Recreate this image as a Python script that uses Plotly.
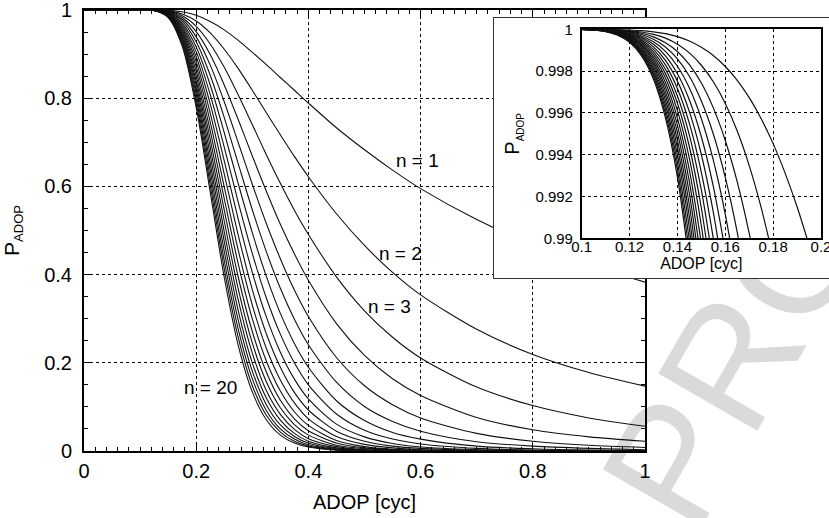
import plotly.graph_objects as go

# ---------------- data ----------------
N_VALUES = list(range(1, 21))

MAIN_X = [0.0, 0.05, 0.10, 0.125, 0.15, 0.175, 0.20, 0.225, 0.25, 0.275, 0.30,
          0.325, 0.35, 0.375, 0.40, 0.45, 0.50, 0.55, 0.60, 0.70, 0.80, 0.90, 1.00]

p_n1 = [1.000, 1.000, 1.000, 1.000, 0.999, 0.996, 0.988, 0.974, 0.955, 0.931, 0.904, 0.876, 0.847, 0.818, 0.789, 0.733, 0.683, 0.637, 0.595, 0.525, 0.468, 0.421, 0.383]
p_n2 = [1.000, 1.000, 1.000, 1.000, 0.998, 0.991, 0.975, 0.948, 0.911, 0.867, 0.818, 0.767, 0.717, 0.668, 0.622, 0.538, 0.466, 0.405, 0.354, 0.276, 0.219, 0.178, 0.147]
p_n3 = [1.000, 1.000, 1.000, 1.000, 0.997, 0.987, 0.963, 0.923, 0.870, 0.807, 0.740, 0.672, 0.607, 0.546, 0.491, 0.395, 0.318, 0.258, 0.211, 0.145, 0.103, 0.075, 0.056]
p_n4 = [1.000, 1.000, 1.000, 1.000, 0.997, 0.983, 0.951, 0.899, 0.830, 0.751, 0.669, 0.589, 0.514, 0.447, 0.387, 0.289, 0.217, 0.164, 0.126, 0.076, 0.048, 0.032, 0.022]
p_n5 = [1.000, 1.000, 1.000, 1.000, 0.996, 0.979, 0.939, 0.875, 0.792, 0.699, 0.605, 0.516, 0.436, 0.365, 0.305, 0.212, 0.148, 0.105, 0.075, 0.040, 0.022, 0.013, 0.008]
p_n6 = [1.000, 1.000, 1.000, 1.000, 0.995, 0.975, 0.928, 0.852, 0.756, 0.651, 0.547, 0.452, 0.369, 0.299, 0.241, 0.156, 0.101, 0.067, 0.045, 0.021, 0.011, 0.006, 0.003]
p_n7 = [1.000, 1.000, 1.000, 1.000, 0.994, 0.970, 0.916, 0.830, 0.722, 0.606, 0.495, 0.396, 0.312, 0.244, 0.190, 0.114, 0.069, 0.042, 0.027, 0.011, 0.005, 0.002, 0.001]
p_n8 = [1.000, 1.000, 1.000, 0.999, 0.993, 0.966, 0.905, 0.808, 0.689, 0.564, 0.448, 0.347, 0.265, 0.200, 0.150, 0.084, 0.047, 0.027, 0.016, 0.006, 0.002, 0.001, 0.000]
p_n9 = [1.000, 1.000, 1.000, 0.999, 0.992, 0.962, 0.894, 0.787, 0.658, 0.525, 0.405, 0.304, 0.224, 0.163, 0.118, 0.061, 0.032, 0.017, 0.009, 0.003, 0.001, 0.000, 0.000]
p_n10 = [1.000, 1.000, 1.000, 0.999, 0.991, 0.958, 0.883, 0.766, 0.628, 0.489, 0.366, 0.266, 0.190, 0.133, 0.093, 0.045, 0.022, 0.011, 0.006, 0.002, 0.001, 0.000, 0.000]
p_n11 = [1.000, 1.000, 1.000, 0.999, 0.991, 0.954, 0.872, 0.746, 0.599, 0.455, 0.331, 0.233, 0.161, 0.109, 0.073, 0.033, 0.015, 0.007, 0.003, 0.001, 0.000, 0.000, 0.000]
p_n12 = [1.000, 1.000, 1.000, 0.999, 0.990, 0.950, 0.861, 0.726, 0.572, 0.424, 0.300, 0.204, 0.136, 0.089, 0.058, 0.024, 0.010, 0.004, 0.002, 0.000, 0.000, 0.000, 0.000]
p_n13 = [1.000, 1.000, 1.000, 0.999, 0.989, 0.946, 0.850, 0.707, 0.546, 0.394, 0.271, 0.179, 0.115, 0.073, 0.046, 0.018, 0.007, 0.003, 0.001, 0.000, 0.000, 0.000, 0.000]
p_n14 = [1.000, 1.000, 1.000, 0.999, 0.988, 0.942, 0.839, 0.689, 0.521, 0.367, 0.245, 0.157, 0.098, 0.060, 0.036, 0.013, 0.005, 0.002, 0.001, 0.000, 0.000, 0.000, 0.000]
p_n15 = [1.000, 1.000, 1.000, 0.999, 0.987, 0.938, 0.829, 0.671, 0.497, 0.342, 0.222, 0.137, 0.083, 0.049, 0.028, 0.010, 0.003, 0.001, 0.000, 0.000, 0.000, 0.000, 0.000]
p_n16 = [1.000, 1.000, 1.000, 0.999, 0.986, 0.934, 0.819, 0.653, 0.475, 0.318, 0.200, 0.120, 0.070, 0.040, 0.022, 0.007, 0.002, 0.001, 0.000, 0.000, 0.000, 0.000, 0.000]
p_n17 = [1.000, 1.000, 1.000, 0.999, 0.985, 0.930, 0.809, 0.636, 0.453, 0.296, 0.181, 0.105, 0.059, 0.033, 0.018, 0.005, 0.002, 0.000, 0.000, 0.000, 0.000, 0.000, 0.000]
p_n18 = [1.000, 1.000, 1.000, 0.999, 0.985, 0.926, 0.799, 0.619, 0.432, 0.276, 0.164, 0.092, 0.050, 0.027, 0.014, 0.004, 0.001, 0.000, 0.000, 0.000, 0.000, 0.000, 0.000]
p_n19 = [1.000, 1.000, 1.000, 0.999, 0.984, 0.922, 0.789, 0.603, 0.413, 0.257, 0.148, 0.081, 0.043, 0.022, 0.011, 0.003, 0.001, 0.000, 0.000, 0.000, 0.000, 0.000, 0.000]
p_n20 = [1.000, 1.000, 1.000, 0.999, 0.983, 0.918, 0.779, 0.587, 0.394, 0.239, 0.134, 0.071, 0.036, 0.018, 0.009, 0.002, 0.000, 0.000, 0.000, 0.000, 0.000, 0.000, 0.000]

MAIN_CURVES = [p_n1, p_n2, p_n3, p_n4, p_n5, p_n6, p_n7, p_n8, p_n9, p_n10,
               p_n11, p_n12, p_n13, p_n14, p_n15, p_n16, p_n17, p_n18, p_n19, p_n20]

# zoomed inset (each curve listed until it leaves the 0.99 floor)
INSET_X = [0.100, 0.105, 0.110, 0.115, 0.120, 0.125, 0.130, 0.135, 0.140, 0.145, 0.150,
           0.155, 0.160, 0.165, 0.170, 0.175, 0.180, 0.185, 0.190, 0.195, 0.200]

q_n1 = [1.00000, 1.00000, 0.99999, 0.99999, 0.99997, 0.99994, 0.99988, 0.99979, 0.99965, 0.99944, 0.99914, 0.99875, 0.99822, 0.99756, 0.99673, 0.99572, 0.99453, 0.99312, 0.99151, 0.98967, 0.98758]
q_n2 = [1.00000, 1.00000, 0.99999, 0.99997, 0.99994, 0.99987, 0.99976, 0.99958, 0.99929, 0.99887, 0.99828, 0.99749, 0.99645, 0.99513, 0.99348, 0.99147, 0.98909]
q_n3 = [1.00000, 0.99999, 0.99998, 0.99996, 0.99991, 0.99981, 0.99964, 0.99936, 0.99894, 0.99831, 0.99743, 0.99624, 0.99468, 0.99270, 0.99023, 0.98723]
q_n4 = [1.00000, 0.99999, 0.99998, 0.99994, 0.99988, 0.99975, 0.99952, 0.99915, 0.99858, 0.99775, 0.99657, 0.99499, 0.99291, 0.99028, 0.98700]
q_n5 = [1.00000, 0.99999, 0.99997, 0.99993, 0.99985, 0.99968, 0.99940, 0.99894, 0.99823, 0.99719, 0.99572, 0.99374, 0.99115, 0.98786]
q_n6 = [1.00000, 0.99999, 0.99997, 0.99992, 0.99981, 0.99962, 0.99928, 0.99873, 0.99787, 0.99662, 0.99486, 0.99249, 0.98939]
q_n7 = [1.00000, 0.99999, 0.99996, 0.99990, 0.99978, 0.99956, 0.99916, 0.99851, 0.99752, 0.99606, 0.99401, 0.99125, 0.98763]
q_n8 = [1.00000, 0.99998, 0.99996, 0.99989, 0.99975, 0.99949, 0.99904, 0.99830, 0.99717, 0.99550, 0.99316, 0.99000, 0.98588]
q_n9 = [0.99999, 0.99998, 0.99995, 0.99988, 0.99972, 0.99943, 0.99892, 0.99809, 0.99681, 0.99494, 0.99230, 0.98876]
q_n10 = [0.99999, 0.99998, 0.99995, 0.99986, 0.99969, 0.99937, 0.99880, 0.99788, 0.99646, 0.99438, 0.99145, 0.98752]
q_n11 = [0.99999, 0.99998, 0.99994, 0.99985, 0.99966, 0.99930, 0.99868, 0.99767, 0.99611, 0.99382, 0.99060, 0.98628]
q_n12 = [0.99999, 0.99998, 0.99993, 0.99983, 0.99963, 0.99924, 0.99856, 0.99745, 0.99575, 0.99326, 0.98975]
q_n13 = [0.99999, 0.99998, 0.99993, 0.99982, 0.99960, 0.99918, 0.99844, 0.99724, 0.99540, 0.99270, 0.98890]
q_n14 = [0.99999, 0.99997, 0.99992, 0.99981, 0.99957, 0.99911, 0.99832, 0.99703, 0.99505, 0.99214, 0.98805]
q_n15 = [0.99999, 0.99997, 0.99992, 0.99979, 0.99954, 0.99905, 0.99820, 0.99682, 0.99469, 0.99158, 0.98721]
q_n16 = [0.99999, 0.99997, 0.99991, 0.99978, 0.99951, 0.99899, 0.99808, 0.99661, 0.99434, 0.99102, 0.98636]
q_n17 = [0.99999, 0.99997, 0.99991, 0.99977, 0.99948, 0.99892, 0.99797, 0.99639, 0.99399, 0.99047, 0.98551]
q_n18 = [0.99999, 0.99997, 0.99990, 0.99975, 0.99944, 0.99886, 0.99785, 0.99618, 0.99363, 0.98991]
q_n19 = [0.99999, 0.99996, 0.99990, 0.99974, 0.99941, 0.99880, 0.99773, 0.99597, 0.99328, 0.98935]
q_n20 = [0.99999, 0.99996, 0.99989, 0.99972, 0.99938, 0.99873, 0.99761, 0.99576, 0.99293, 0.98879]

INSET_CURVES = [q_n1, q_n2, q_n3, q_n4, q_n5, q_n6, q_n7, q_n8, q_n9, q_n10,
                q_n11, q_n12, q_n13, q_n14, q_n15, q_n16, q_n17, q_n18, q_n19, q_n20]

CURVE_LABELS = ["n = 1", "n = 2", "n = 3", "n = 20"]
X_TITLE = "ADOP [cyc]"
WATERMARK_TEXT = "PROOF"

# ---------------- layout helpers (pixel -> paper) ----------------
W, H = 829, 518
ML, MB = 84, 67
PW, PH = W - ML, H - MB


def px_x(px):
    return (px - ML) / PW


def px_y(py):
    return (H - MB - py) / PH


FONT = "Liberation Sans, Arial, Helvetica, sans-serif"
INK = "#111111"

fig = go.Figure()

for n, ys in zip(N_VALUES, MAIN_CURVES):
    fig.add_trace(go.Scatter(
        x=MAIN_X, y=ys, mode="lines", name=f"n = {n}",
        line=dict(color=INK, width=1.1, shape="spline", smoothing=0.8),
        xaxis="x", yaxis="y", showlegend=False, hoverinfo="skip"))

# opaque panel behind the inset (empty subplot)
fig.add_trace(go.Scatter(x=[None], y=[None], xaxis="x2", yaxis="y2",
                         showlegend=False, hoverinfo="skip"))

for n, ys in zip(N_VALUES, INSET_CURVES):
    fig.add_trace(go.Scatter(
        x=INSET_X[:len(ys)], y=ys, mode="lines", name=f"n = {n} (zoom)",
        line=dict(color=INK, width=1.2, shape="spline", smoothing=0.8),
        xaxis="x3", yaxis="y3", showlegend=False, hoverinfo="skip"))

main_axis = dict(
    range=[0, 1], dtick=0.2, tick0=0, ticks="inside", ticklen=6, tickwidth=1,
    tickcolor="black", mirror="allticks", showline=True, linewidth=2,
    linecolor="black", showgrid=True, gridcolor="black", griddash="dot",
    gridwidth=1, zeroline=False, automargin=False, ticklabeloverflow="allow",
    tickfont=dict(size=20, color="black"),
)

fig.update_layout(
    template="none",
    width=W, height=H,
    margin=dict(l=ML, r=0, t=0, b=MB, pad=0, autoexpand=False),
    paper_bgcolor="white", plot_bgcolor="white",
    font=dict(family=FONT, color="black"),
    showlegend=False,
    xaxis=dict(main_axis, domain=[0, px_x(645)], anchor="y",
               minor=dict(dtick=0.02, ticks="inside", ticklen=4, tickcolor="black",
                          tickwidth=1, showgrid=False),
               ticklabelstandoff=1,
               title=dict(text=X_TITLE, font=dict(size=20), standoff=14)),
    yaxis=dict(main_axis, domain=[0, px_y(10)], anchor="x",
               minor=dict(dtick=0.05, ticks="inside", ticklen=4, tickcolor="black",
                          tickwidth=1, showgrid=False),
               ticklabelstandoff=6,
               title=dict(text='P<sub><span style="font-size:13px">ADOP</span></sub>',
                          font=dict(size=21), standoff=26)),
    xaxis2=dict(domain=[px_x(494), 1], range=[0, 1], anchor="y2", automargin=False,
                showline=True, mirror=True, linecolor="#333333", linewidth=1,
                showgrid=False, zeroline=False, showticklabels=False, ticks=""),
    yaxis2=dict(domain=[px_y(278), px_y(18)], range=[0, 1], anchor="x2", automargin=False,
                showline=True, mirror=False, linecolor="#333333", linewidth=1,
                showgrid=False, zeroline=False, showticklabels=False, ticks=""),
    xaxis3=dict(domain=[px_x(581.7), px_x(821)], range=[0.1, 0.2], anchor="y3",
                automargin=False, ticklabeloverflow="allow",
                dtick=0.02, tick0=0, ticks="", showline=True, mirror=True,
                linewidth=1.5, linecolor="black", showgrid=True, gridcolor="black",
                griddash="dot", gridwidth=1, zeroline=False,
                tickfont=dict(size=15, color="black"), ticklabelstandoff=-6,
                title=dict(text=X_TITLE, font=dict(size=16), standoff=3)),
    yaxis3=dict(domain=[px_y(238.3), px_y(29.3)], range=[0.99, 1], anchor="x3",
                automargin=False, ticklabeloverflow="allow",
                dtick=0.002, tick0=0, ticks="", showline=True, mirror=True,
                linewidth=1.5, linecolor="black", showgrid=True, gridcolor="black",
                griddash="dot", gridwidth=1, zeroline=False,
                tickfont=dict(size=15, color="black"), ticklabelstandoff=4,
                title=dict(text='P<sub><span style="font-size:10px">ADOP</span></sub>',
                           font=dict(size=20), standoff=10)),
)

# curve labels
label_pos = [(0.594, 0.658), (0.565, 0.448), (0.545, 0.327), (0.2246, 0.145)]
for txt, (lx, ly) in zip(CURVE_LABELS, label_pos):
    fig.add_annotation(x=lx, y=ly, xref="x", yref="y", text=txt, showarrow=False,
                       font=dict(size=19, color="black", family=FONT),
                       xanchor="center", yanchor="middle")

# light "PROOF" watermark, drawn beneath the plots so the inset panel hides part of it
wcx, wcy = 779, 246
fig.add_shape(type="rect", xref="paper", yref="paper", layer="below",
              x0=px_x(wcx - 1), x1=px_x(wcx + 1), y0=px_y(wcy + 1), y1=px_y(wcy - 1),
              line=dict(width=0), fillcolor="rgba(0,0,0,0)",
              label=dict(text=WATERMARK_TEXT, textangle=-60, textposition="middle center",
                         font=dict(size=166, color="#dadada", family=FONT)))

fig.write_html("out.html",
               config={"displayModeBar": False},
               post_script="document.body.style.margin='0px';"
                           "document.body.style.padding='0px';")
